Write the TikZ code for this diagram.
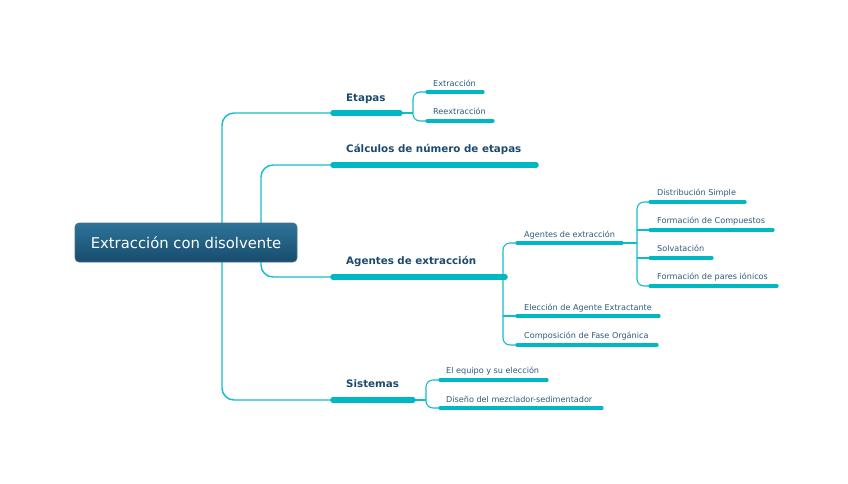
\documentclass[tikz,border=0pt]{standalone}
\usepackage{fontspec}
\setmainfont{DejaVu Sans}
\definecolor{teal}{HTML}{12BDC8}
\definecolor{barteal}{HTML}{00B8C4}
\definecolor{darkblue}{HTML}{1B4A6E}
\definecolor{subblue}{HTML}{2C5A7C}
\definecolor{boxtop}{HTML}{2E7399}
\definecolor{boxbot}{HTML}{174C6D}
\tikzset{
  link/.style={draw=teal, line width=1.4pt, rounded corners=12pt},
  sublink/.style={draw=teal, line width=1.1pt, rounded corners=7pt},
  mainbar/.style={draw=barteal, line width=5.5pt, line cap=round},
  subbar/.style={draw=barteal, line width=3.2pt, line cap=round},
  maintext/.style={anchor=base west, inner sep=0pt, text=darkblue, font=\bfseries\fontsize{10.3}{12}\selectfont},
  subtext/.style={anchor=base west, inner sep=0pt, text=subblue, font=\fontsize{8.1}{9}\selectfont},
  centerbox/.style={rounded corners=4pt, top color=boxtop, bottom color=boxbot, draw=boxbot!80!white, line width=0.6pt, text=white, minimum width=222pt, minimum height=39pt, inner sep=0pt, font=\fontsize{14.8}{16}\selectfont}
}
\begin{document}
\begin{tikzpicture}[x=1pt,y=-1pt]
\useasboundingbox (0,0) rectangle (848,483);
% bar end coordinates
\coordinate (etA) at (333,113); \coordinate (etB) at (400,113);
\coordinate (caA) at (333,165); \coordinate (caB) at (536,165);
\coordinate (agA) at (333,277); \coordinate (agB) at (505,277);
\coordinate (siA) at (333,400); \coordinate (siB) at (413,400);
\coordinate (exA) at (427,92); \coordinate (exB) at (483,92);
\coordinate (reA) at (427,121); \coordinate (reB) at (493,121);
\coordinate (eqA) at (440,380); \coordinate (eqB) at (547,380);
\coordinate (diA) at (440,408); \coordinate (diB) at (602,408);
\coordinate (aeA) at (517,243); \coordinate (aeB) at (622,243); \coordinate (aeC) at (637,243);
\coordinate (elA) at (517,316); \coordinate (elB) at (659,316);
\coordinate (coA) at (517,345); \coordinate (coB) at (657,345);
\coordinate (dsA) at (650,202); \coordinate (dsB) at (745,202);
\coordinate (fcA) at (650,230); \coordinate (fcB) at (773,230);
\coordinate (svA) at (650,258); \coordinate (svB) at (712,258);
\coordinate (fpA) at (650,286); \coordinate (fpB) at (777,286);

% main connectors
\draw[link] (etA) -- (222,113) -- (222,400) -- (siA);
\draw[link] (caA) -- (261,165) -- (261,277) -- (agA);
% sub connectors
\draw[sublink] (etB) -- (413,113);
\draw[sublink] (exA) -- (413,92) -- (413,121) -- (reA);
\draw[sublink] (siB) -- (426,400);
\draw[sublink] (eqA) -- (426,380) -- (426,408) -- (diA);
\draw[sublink] (agB) -- (503,277);
\draw[sublink] (aeA) -- (503,243) -- (503,345) -- (coA);
\draw[sublink] (503,316) -- (elA);
\draw[sublink] (aeB) -- (aeC);
\draw[sublink] (dsA) -- (aeC |- dsA) -- (aeC |- fpA) -- (fpA);
\draw[sublink] (aeC |- fcA) -- (fcA);
\draw[sublink] (aeC |- svA) -- (svA);

% bars
\draw[mainbar] (etA) -- (etB);
\draw[mainbar] (caA) -- (caB);
\draw[mainbar] (agA) -- (agB);
\draw[mainbar] (siA) -- (siB);
\foreach \n in {ex,re,eq,di,ae,el,co,ds,fc,sv,fp}{\draw[subbar] (\n A) -- (\n B);}

% central node
\node[centerbox] (center) at (186,242.5) {Extracción con disolvente};

% main texts
\node[maintext] (etapas) at (346,101) {Etapas};
\node[maintext] (calc) at (346,152) {Cálculos de número de etapas};
\node[maintext] (agentes) at (346,264) {Agentes de extracción};
\node[maintext] (sist) at (346,387) {Sistemas};
% sub texts
\node[subtext] (t1) at (433,86) {Extracción};
\node[subtext] (t2) at (433,114) {Reextracción};
\node[subtext] (t3) at (446,373) {El equipo y su elección};
\node[subtext] (t4) at (446,402) {Diseño del mezclador-sedimentador};
\node[subtext] (t5) at (524,237) {Agentes de extracción};
\node[subtext] (t6) at (524,310) {Elección de Agente Extractante};
\node[subtext] (t7) at (524,338) {Composición de Fase Orgánica};
\node[subtext] (t8) at (657,195) {Distribución Simple};
\node[subtext] (t9) at (657,223) {Formación de Compuestos};
\node[subtext] (t10) at (657,251) {Solvatación};
\node[subtext] (t11) at (657,279) {Formación de pares iónicos};
\end{tikzpicture}
\end{document}
